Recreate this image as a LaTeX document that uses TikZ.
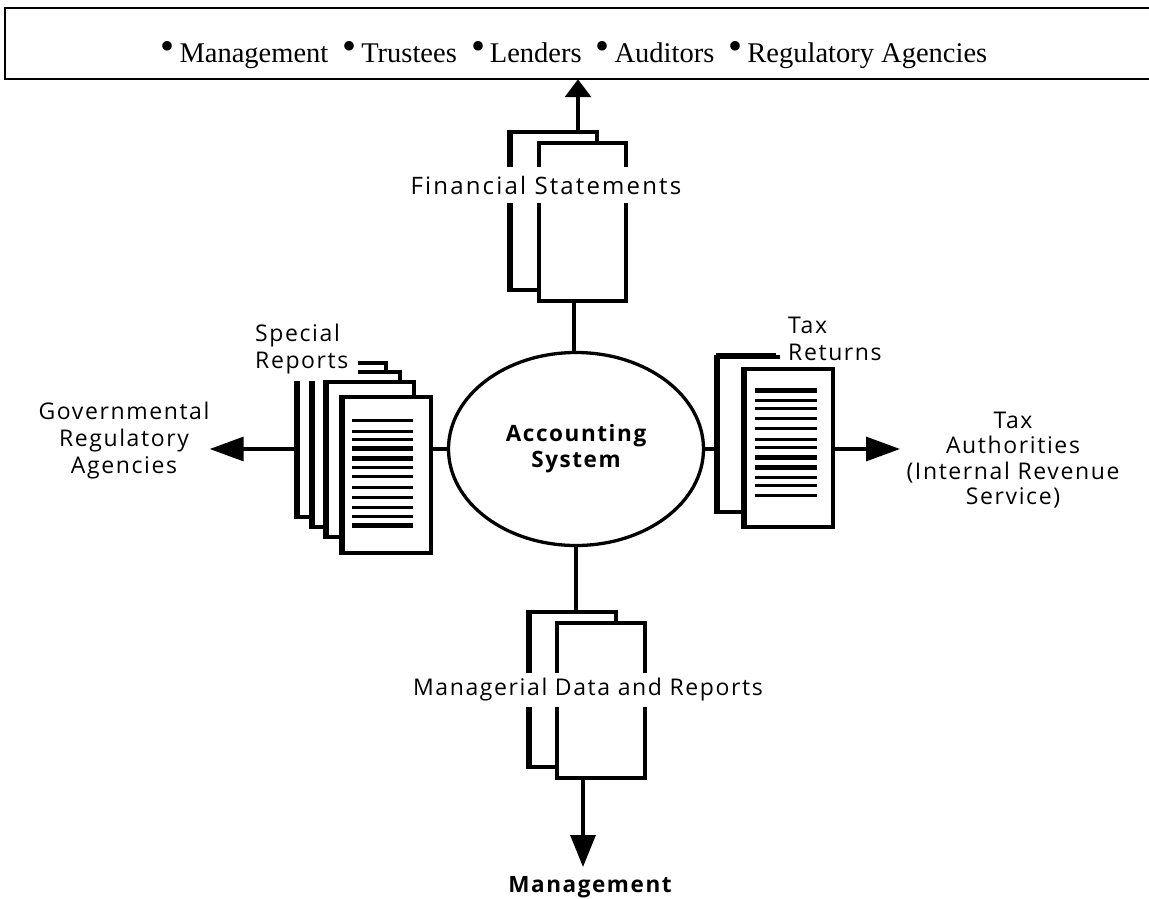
\documentclass[tikz,border=0pt]{standalone}
\usepackage{fontspec}
\setmainfont{Liberation Serif}
\newfontfamily\lab[LetterSpace=7]{Open Sans}
\newfontfamily\labw[LetterSpace=9]{Open Sans}
\usetikzlibrary{shapes.geometric,arrows.meta}
\newcommand{\bigbul}{{\fontsize{40}{40}\selectfont\raisebox{3pt}{•}}}
\begin{document}
\begin{tikzpicture}[x=1pt,y=-1pt,
  doc/.style={draw, fill=white, line width=3.3pt, rectangle, inner sep=0pt},
  conn/.style={line width=3.3pt},
  thk/.style={line width=5pt},
  bar/.style={line width=3pt},
  bbar/.style={line width=5pt},
  lbl/.style={font=\lab\fontsize{23}{27}\selectfont, inner sep=0pt},
  blbl/.style={font=\lab\bfseries\fontsize{22.5}{26}\selectfont, inner sep=0pt},
  arr/.style={-{Triangle[length=34pt,width=24pt]}, line width=3.3pt}
]
\useasboundingbox (0,0) rectangle (1149,899);
\clip (0,0) rectangle (1149,899);
\fill[white] (0,0) rectangle (1149,899);

% top box (open on the right)
\node[minimum width=1215pt, minimum height=71pt, inner sep=0pt] (top) at (612.5,43.5) {};
\draw[line width=2pt] (top.north east) -- (top.north west) -- (top.south west) -- (top.south east);
\node[font=\fontsize{28.5}{30}\selectfont, inner sep=0pt, anchor=base] (audience) at (574,63)
  {\bigbul\,Management\ \ \bigbul\,Trustees\ \ \bigbul\,Lenders\ \ \bigbul\,Auditors\ \ \bigbul\,Regulatory Agencies};

% accounting system
\node[draw, ellipse, line width=3.3pt, minimum width=255pt, minimum height=193pt, inner sep=0pt,
  blbl, align=center] (acc) at (576,449) {Accounting\\System};

% financial statements
\node[doc, minimum width=86pt, minimum height=158pt] (F1) at (554,211) {};
\draw[thk] (F1.north west) -- (F1.south west);
\node[doc, minimum width=87pt, minimum height=158pt] (F2) at (582.5,222) {};
\node[lbl, font=\labw\fontsize{24}{27}\selectfont, fill=white, minimum height=36pt, inner xsep=4pt] (fs) at (546,185) {Financial Statements};
\coordinate (fa) at (578,132);
\draw[-{Triangle[length=18pt,width=26pt]}, line width=3.3pt] (fa) -- (fa |- top.south);
\coordinate (fb) at (574,301);
\draw[conn] (fb) -- (fb |- acc.north);

% special reports
\node[doc, minimum width=88pt, minimum height=154pt] (S1) at (342,440) {};
\draw[thk] (S1.north west) -- (S1.south west);
\node[doc, minimum width=87pt, minimum height=155pt] (S2) at (356.5,449.5) {};
\draw[thk] (S2.north west) -- (S2.south west);
\fill[white] (245,305) rectangle (358,381);
\node[lbl, align=left, anchor=west] (sr) at (255,349) {Special\\Reports};
\node[doc, minimum width=87pt, minimum height=155pt] (S3) at (370.5,459.5) {};
\draw[thk] (S3.north west) -- (S3.south west);
\node[doc, minimum width=88pt, minimum height=156pt] (S4) at (387,475) {};
\draw[thk] (S4.north west) -- (S4.south west);
\foreach \y in {420,431,439,467,476,487,497,507,516} \draw[bar] (352,\y) -- (413,\y);
\foreach \y in {448,458,525} \draw[bbar] (352,\y) -- (413,\y);
\draw[conn] (acc.west) -- (acc.west -| S4.east);
\node[lbl, align=center] (gov) at (124,441) {Governmental\\Regulatory\\Agencies};
\draw[arr] (S1.west |- acc.west) -- (gov.east |- acc.west);

% tax returns
\node[doc, minimum width=88pt, minimum height=155pt] (T1) at (762,434.5) {};
\draw[thk] (T1.north west) -- (T1.south west);
\draw[thk] (T1.north west) -- ++(60,0);
\fill[white] (780,300) rectangle (885,368);
\node[lbl, align=left, anchor=west] (tr) at (788,339) {Tax\\Returns};
\node[doc, minimum width=88pt, minimum height=158pt] (T2) at (789,448) {};
\draw[thk] (T2.north west) -- (T2.south west);
\foreach \y in {400,408,418,428,439,447,477,485,495} \draw[bar] (755,\y) -- (817,\y);
\foreach \y in {390,457,467} \draw[bbar] (755,\y) -- (817,\y);
\draw[conn] (acc.east) -- (acc.east -| T1.west);
\node[lbl, align=center, font=\lab\fontsize{23}{25.5}\selectfont] (irs) at (1013,460) {Tax\\Authorities\\(Internal Revenue\\Service)};
\draw[arr] (T2.east |- acc.east) -- (900,449);

% managerial data
\node[doc, minimum width=86pt, minimum height=155pt] (M1) at (573,689.5) {};
\draw[thk] (M1.north west) -- (M1.south west);
\node[doc, minimum width=88pt, minimum height=155pt] (M2) at (601,700.5) {};
\node[lbl, fill=white, minimum height=34pt, inner xsep=4pt] (md) at (588,690) {Managerial Data and Reports};
\draw[conn] (acc.south) -- (acc.south |- M1.north);
\node[blbl] (mgmt) at (590,887) {Management};
\coordinate (mb) at (583,778);
\draw[-{Triangle[length=32pt,width=25pt]}, line width=3.3pt] (mb) -- (583,867);
\end{tikzpicture}
\end{document}
